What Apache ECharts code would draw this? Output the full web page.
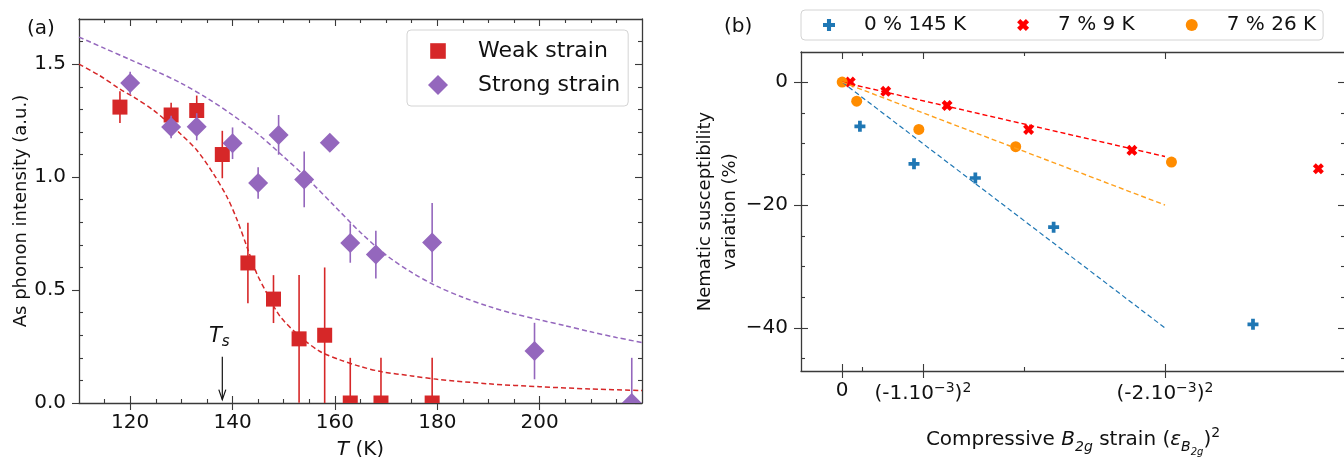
<!DOCTYPE html>
<html>
<head>
<meta charset="utf-8">
<script src="https://cdn.jsdelivr.net/npm/echarts@6/dist/echarts.min.js"></script>
<style>
  html, body { margin: 0; padding: 0; background: #fff; }
  #chart { width: 1344px; height: 457px; }
</style>
</head>
<body>
<div id="chart"></div>
<script>
// ---------- (a) As phonon intensity versus temperature ----------
const weakT      = [118, 128, 133, 138, 143, 148, 153, 158, 163, 169, 179];
const weakI      = [1.31, 1.275, 1.295, 1.10, 0.62, 0.46, 0.284, 0.30, 0, 0, 0];
const weakErr    = [0.07, 0.054, 0.066, 0.105, 0.178, 0.106, 0.283, 0.30, 0.20, 0.20, 0.20];

const strongT    = [120, 128, 133, 140, 145, 149, 154, 159, 163, 168, 179, 199, 218];
const strongI    = [1.417, 1.222, 1.223, 1.15, 0.974, 1.187, 0.99, 1.152, 0.708, 0.657, 0.71, 0.23, 0];
const strongErr  = [0.05, 0.05, 0.06, 0.07, 0.07, 0.088, 0.123, 0.02, 0.087, 0.106, 0.175, 0.125, 0.20];

// fitted curves (dashed)
const weakFitT   = [110, 114, 118, 121, 124.5, 127, 129.7, 133, 136.2, 138.9, 140.9, 142.8, 144.7, 146.7, 149.3, 153.2, 157.1, 161, 164.9, 169, 175, 180, 190, 200, 210, 220];
const weakFitI   = [1.50, 1.45, 1.39, 1.35, 1.297, 1.25, 1.194, 1.12, 1.017, 0.913, 0.81, 0.692, 0.575, 0.486, 0.383, 0.294, 0.228, 0.191, 0.162, 0.139, 0.12, 0.105, 0.085, 0.072, 0.062, 0.055];
const strongFitT = [110, 115, 120, 125, 130, 135, 140, 145, 150, 155, 160, 165, 170, 175, 180, 185, 190, 195, 200, 205, 210, 215, 220];
const strongFitI = [1.62, 1.57, 1.52, 1.47, 1.415, 1.35, 1.275, 1.19, 1.09, 0.985, 0.87, 0.755, 0.655, 0.578, 0.516, 0.468, 0.428, 0.395, 0.368, 0.342, 0.315, 0.29, 0.268];

// structural transition marker
const tsTemp = 138;
const tsArrowFrom = 0.205;
const tsArrowTo = 0.015;

const tempTicks      = [120, 140, 160, 180, 200];
const tempMinorTicks = [115, 125, 130, 135, 145, 150, 155, 165, 170, 175, 185, 190, 195, 205, 210, 215];
const intTicks       = [0, 0.5, 1.0, 1.5];
const intMinorTicks  = [0.1, 0.2, 0.3, 0.4, 0.6, 0.7, 0.8, 0.9, 1.1, 1.2, 1.3, 1.4, 1.6];

// ---------- (b) Nematic susceptibility versus squared strain (units of 1e-6) ----------
const s145x = [0.22, 0.89, 1.65, 2.62, 5.09];
const s145y = [-7.2, -13.3, -15.6, -23.6, -39.4];
const s9x   = [0.10, 0.54, 1.30, 2.31, 3.59, 5.90];
const s9y   = [0, -1.5, -3.8, -7.7, -11.1, -14.1];
const s26x  = [0, 0.18, 0.95, 2.15, 4.08];
const s26y  = [0, -3.1, -7.7, -10.5, -13.0];

const fitX      = [0, 4];
const fit145Y   = [0, -40];
const fit9Y     = [0, -12.1];
const fit26Y    = [0, -20];

const strainTicks      = [0, 1, 4];
const strainTickLabels = ['{n|0}', '{n|(-1.10}{sup|\u22123}{n|)}{sup|2}', '{n|(-2.10}{sup|\u22123}{n|)}{sup|2}'];
const strainMinorTicks = [0.25, 2.25];
const suscTicks        = [0, -20, -40];
const suscMinorTicks   = [-45, -35, -30, -25, -15, -10, -5];

// ---------- styling ----------
const FONT = 'DejaVu Sans';
const AXIS_COLOR = '#3a3a3a';
const TEXT_COLOR = '#111';
const RED_A = '#d62728', PURPLE_A = '#9467bd';
const BLUE_B = '#1f77b4', RED_B = '#ff0000', ORANGE_B = '#ff8c00', ORANGE_FIT = '#ffa01c';

const zip = (a, b) => a.map((v, i) => [v, b[i]]);
const zip3 = (a, b, c) => a.map((v, i) => [v, b[i], c[i]]);

function axis(o) {
  const ax = {
    type: 'value', gridIndex: o.grid, position: o.pos, min: o.min, max: o.max,
    axisLine: { show: !!o.line, onZero: false, lineStyle: { color: AXIS_COLOR, width: 1.3 } },
    axisTick: o.ticks ? { show: true, customValues: o.ticks, inside: !!o.inside, length: o.len,
                          lineStyle: { color: AXIS_COLOR, width: 1.1 } } : { show: false },
    minorTick: { show: false },
    axisLabel: { show: false },
    splitLine: { show: false },
    splitArea: { show: false },
    nameMoveOverlap: false
  };
  if (o.labels) {
    ax.axisLabel = Object.assign({ show: true, customValues: o.ticks, fontFamily: FONT, fontSize: 20,
                                   color: TEXT_COLOR, margin: o.margin }, o.labels);
  }
  if (o.name) Object.assign(ax, o.name);
  return ax;
}

const xAxes = [
  // panel (a)
  axis({ grid: 0, pos: 'bottom', min: 110, max: 220, line: true, ticks: tempTicks, inside: false, len: 7,
         labels: {}, margin: 10,
         name: { name: '{i|T} (K)', nameLocation: 'middle', nameGap: 37,
                 nameTextStyle: { fontFamily: FONT, fontSize: 20, color: TEXT_COLOR,
                                  rich: { i: { fontFamily: FONT, fontSize: 20, fontStyle: 'italic', color: TEXT_COLOR } } } } }),
  axis({ grid: 0, pos: 'bottom', min: 110, max: 220, ticks: tempTicks, inside: true, len: 7 }),
  axis({ grid: 0, pos: 'bottom', min: 110, max: 220, ticks: tempMinorTicks, inside: true, len: 4 }),
  axis({ grid: 0, pos: 'top', min: 110, max: 220, line: true, ticks: tempTicks, inside: true, len: 7 }),
  axis({ grid: 0, pos: 'top', min: 110, max: 220, ticks: tempMinorTicks, inside: true, len: 4 }),
  // panel (b)
  axis({ grid: 1, pos: 'bottom', min: -0.51, max: 6.23, line: true, ticks: strainTicks, inside: false, len: 7,
         labels: { formatter: v => strainTickLabels[strainTicks.indexOf(v)],
                   rich: {
                     n:   { fontFamily: FONT, fontSize: 20, color: TEXT_COLOR },
                     sup: { fontFamily: FONT, fontSize: 14, color: TEXT_COLOR, padding: [0, 0, 12, 0] }
                   } }, margin: 10,
         name: { name: '{n|Compressive }{i|B}{s|2g}{n| strain (}{i|\u03B5}{s|B}{ss|2g}{n|)}{sup|2}',
                 nameLocation: 'middle', nameGap: 52,
                 nameTextStyle: { fontFamily: FONT, fontSize: 20, color: TEXT_COLOR,
                   rich: {
                     n:   { fontFamily: FONT, fontSize: 20, color: TEXT_COLOR },
                     i:   { fontFamily: FONT, fontSize: 20, fontStyle: 'italic', color: TEXT_COLOR },
                     s:   { fontFamily: FONT, fontSize: 14, fontStyle: 'italic', color: TEXT_COLOR, padding: [14, 0, 0, 0] },
                     ss:  { fontFamily: FONT, fontSize: 10, fontStyle: 'italic', color: TEXT_COLOR, padding: [24, 0, 0, 0] },
                     sup: { fontFamily: FONT, fontSize: 14, color: TEXT_COLOR, padding: [0, 0, 14, 0] }
                   } } } }),
  axis({ grid: 1, pos: 'bottom', min: -0.51, max: 6.23, ticks: strainTicks, inside: true, len: 7 }),
  axis({ grid: 1, pos: 'bottom', min: -0.51, max: 6.23, ticks: strainMinorTicks, inside: true, len: 4 }),
  axis({ grid: 1, pos: 'top', min: -0.51, max: 6.23, line: true, ticks: strainTicks, inside: true, len: 7 }),
  axis({ grid: 1, pos: 'top', min: -0.51, max: 6.23, ticks: strainMinorTicks, inside: true, len: 4 })
];

const yAxes = [
  // panel (a)
  axis({ grid: 0, pos: 'left', min: 0, max: 1.7, line: true, ticks: intTicks, inside: false, len: 7,
         labels: { formatter: v => v.toFixed(1) }, margin: 13,
         name: { name: 'As phonon intensity (a.u.)', nameLocation: 'middle', nameGap: 49,
                 nameTextStyle: { fontFamily: FONT, fontSize: 18, color: TEXT_COLOR } } }),
  axis({ grid: 0, pos: 'left', min: 0, max: 1.7, ticks: intMinorTicks, inside: true, len: 4 }),
  axis({ grid: 0, pos: 'right', min: 0, max: 1.7, line: true, ticks: intTicks, inside: true, len: 7 }),
  axis({ grid: 0, pos: 'right', min: 0, max: 1.7, ticks: intMinorTicks, inside: true, len: 4 }),
  // panel (b)
  axis({ grid: 1, pos: 'left', min: -47, max: 4.9, line: true, ticks: suscTicks, inside: false, len: 7,
         labels: { formatter: v => (v < 0 ? '\u2212' + (-v) : String(v)) }, margin: 13,
         name: { name: 'Nematic susceptibility\nvariation (%)', nameLocation: 'middle', nameGap: 58,
                 nameTextStyle: { fontFamily: FONT, fontSize: 18, lineHeight: 25, color: TEXT_COLOR, align: 'center' } } }),
  axis({ grid: 1, pos: 'left', min: -47, max: 4.9, ticks: suscTicks, inside: true, len: 7 }),
  axis({ grid: 1, pos: 'left', min: -47, max: 4.9, ticks: suscMinorTicks, inside: true, len: 4 }),
  axis({ grid: 1, pos: 'right', min: -47, max: 4.9, line: true, ticks: suscTicks, inside: true, len: 7 }),
  axis({ grid: 1, pos: 'right', min: -47, max: 4.9, ticks: suscMinorTicks, inside: true, len: 4 })
];

// vertical error bars, clipped to the plot area
function errorBars(color) {
  return function (params, api) {
    const x = api.value(0), y = api.value(1), e = api.value(2);
    const lo = api.coord([x, y - e]);
    const hi = api.coord([x, y + e]);
    return { type: 'line', shape: { x1: lo[0], y1: lo[1], x2: hi[0], y2: hi[1] },
             style: { stroke: color, lineWidth: 1.6 } };
  };
}

// filled square / diamond markers, clipped so points on the axis show only their upper half
function markers(kind, color, size) {
  return function (params, api) {
    const p = api.coord([api.value(0), api.value(1)]);
    const h = size / 2;
    if (kind === 'square') {
      return { type: 'rect', shape: { x: p[0] - h, y: p[1] - h, width: size, height: size },
               style: { fill: color } };
    }
    return { type: 'polygon',
             shape: { points: [[p[0], p[1] - h], [p[0] + h, p[1]], [p[0], p[1] + h], [p[0] - h, p[1]]] },
             style: { fill: color } };
  };
}

// filled plus and filled cross symbols
const plusPath = 'path://M-1.7,-5H1.7V-1.7H5V1.7H1.7V5H-1.7V1.7H-5V-1.7H-1.7Z';
const crossPath = 'path://M2.26,-4.81L4.81,-2.26L2.55,0L4.81,2.26L2.26,4.81L0,2.55L-2.26,4.81L-4.81,2.26L-2.55,0L-4.81,-2.26L-2.26,-4.81L0,-2.55Z';
const squareIcon = 'path://M0,0M20,20M2.2,2.2H17.8V17.8H2.2Z';

const dashed = (color, width) => ({ color: color, width: width, type: [5, 3] });

const option = {
  animation: false,
  backgroundColor: '#fff',
  grid: [
    { left: 79, top: 19, width: 563, height: 384, outerBoundsMode: 'none', containLabel: false },
    { left: 801, top: 52, width: 544, height: 319, outerBoundsMode: 'none', containLabel: false }
  ],
  xAxis: xAxes,
  yAxis: yAxes,
  legend: [
    {
      data: [{ name: 'Weak strain', icon: squareIcon }, { name: 'Strong strain', icon: 'diamond' }],
      orient: 'vertical', left: 407, top: 30,
      itemWidth: 20, itemHeight: 20, itemGap: 12,
      padding: [10, 8, 10, 21],
      textStyle: { fontFamily: FONT, fontSize: 22, color: TEXT_COLOR, padding: [0, 0, 0, 25] },
      borderColor: '#d4d4d4', borderWidth: 1, borderRadius: 4, backgroundColor: '#fff',
      selectedMode: false
    },
    {
      data: ['0 % 145 K', '7 % 9 K', '7 % 26 K'],
      orient: 'horizontal', left: 801, top: 10,
      itemWidth: 12, itemHeight: 12, itemGap: 51,
      padding: [5, 7, 5, 22],
      textStyle: { fontFamily: FONT, fontSize: 20, color: TEXT_COLOR, padding: [0, 0, 0, 24] },
      borderColor: '#d4d4d4', borderWidth: 1, borderRadius: 4, backgroundColor: '#fff',
      selectedMode: false
    }
  ],
  graphic: [
    { type: 'text', left: 27, top: 19, style: { text: '(a)', fontFamily: FONT, fontSize: 20, fill: TEXT_COLOR } },
    { type: 'text', left: 724, top: 17, style: { text: '(b)', fontFamily: FONT, fontSize: 20, fill: TEXT_COLOR } }
  ],
  series: [
    // ----- panel (a) -----
    { type: 'line', xAxisIndex: 0, yAxisIndex: 0, data: zip(weakFitT, weakFitI), smooth: 0.3,
      showSymbol: false, lineStyle: dashed(RED_A, 1.5), z: 2, silent: true },
    { type: 'line', xAxisIndex: 0, yAxisIndex: 0, data: zip(strongFitT, strongFitI), smooth: 0.3,
      showSymbol: false, lineStyle: dashed(PURPLE_A, 1.5), z: 2, silent: true },
    { type: 'custom', xAxisIndex: 0, yAxisIndex: 0, clip: true, z: 3,
      data: zip3(weakT, weakI, weakErr), renderItem: errorBars(RED_A) },
    { name: 'Weak strain', type: 'custom', xAxisIndex: 0, yAxisIndex: 0, clip: true, z: 3,
      itemStyle: { color: RED_A },
      data: zip(weakT, weakI), renderItem: markers('square', RED_A, 15) },
    { type: 'custom', xAxisIndex: 0, yAxisIndex: 0, clip: true, z: 4,
      data: zip3(strongT, strongI, strongErr), renderItem: errorBars(PURPLE_A) },
    { name: 'Strong strain', type: 'custom', xAxisIndex: 0, yAxisIndex: 0, clip: true, z: 4,
      itemStyle: { color: PURPLE_A },
      data: zip(strongT, strongI), renderItem: markers('diamond', PURPLE_A, 20) },
    // T_s arrow and label
    { type: 'custom', xAxisIndex: 0, yAxisIndex: 0, z: 5, silent: true,
      data: [[tsTemp, tsArrowFrom, tsArrowTo]],
      renderItem: function (params, api) {
        const top = api.coord([api.value(0), api.value(1)]);
        const tip = api.coord([api.value(0), api.value(2)]);
        return { type: 'group', children: [
          { type: 'line', shape: { x1: top[0], y1: top[1], x2: tip[0], y2: tip[1] },
            style: { stroke: '#111', lineWidth: 1.2 } },
          { type: 'polyline', shape: { points: [[tip[0] - 3.5, tip[1] - 10], [tip[0], tip[1]], [tip[0] + 3.5, tip[1] - 10]] },
            style: { stroke: '#111', lineWidth: 1.2, fill: null } },
          { type: 'text', x: top[0] - 3, y: top[1] - 7,
            style: { text: '{t|T}{s|s}', align: 'center', verticalAlign: 'bottom',
                     rich: { t: { fontFamily: FONT, fontSize: 21, fontStyle: 'italic', fill: '#111' },
                             s: { fontFamily: FONT, fontSize: 15, fontStyle: 'italic', fill: '#111', padding: [12, 0, 0, 0] } } } }
        ] };
      } },
    // ----- panel (b) -----
    { type: 'line', xAxisIndex: 5, yAxisIndex: 4, data: zip(fitX, fit145Y), showSymbol: false,
      lineStyle: dashed(BLUE_B, 1.2), silent: true },
    { type: 'line', xAxisIndex: 5, yAxisIndex: 4, data: zip(fitX, fit9Y), showSymbol: false,
      lineStyle: dashed(RED_B, 1.4), silent: true },
    { type: 'line', xAxisIndex: 5, yAxisIndex: 4, data: zip(fitX, fit26Y), showSymbol: false,
      lineStyle: dashed(ORANGE_FIT, 1.4), silent: true },
    { name: '0 % 145 K', type: 'scatter', xAxisIndex: 5, yAxisIndex: 4, data: zip(s145x, s145y),
      symbol: plusPath, symbolSize: 11, itemStyle: { color: BLUE_B, opacity: 1 } },
    { name: '7 % 9 K', type: 'scatter', xAxisIndex: 5, yAxisIndex: 4, data: zip(s9x, s9y),
      symbol: crossPath, symbolSize: 11, itemStyle: { color: RED_B, opacity: 1 } },
    { name: '7 % 26 K', type: 'scatter', xAxisIndex: 5, yAxisIndex: 4, data: zip(s26x, s26y),
      symbol: 'circle', symbolSize: 11, itemStyle: { color: ORANGE_B, opacity: 1 } }
  ]
};

const chart = echarts.init(document.getElementById('chart'), null, { renderer: 'canvas' });
chart.setOption(option);
</script>
</body>
</html>
